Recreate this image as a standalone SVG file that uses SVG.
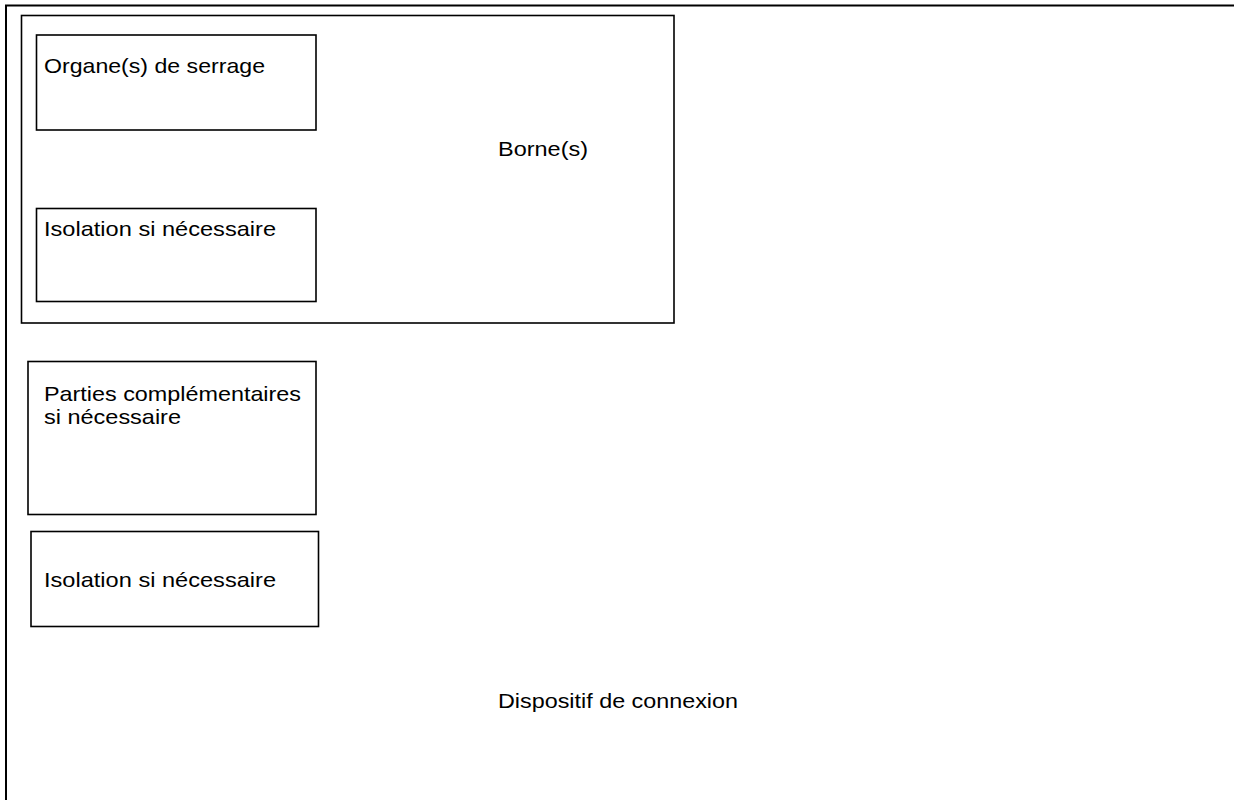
<svg xmlns="http://www.w3.org/2000/svg" width="1234" height="800" viewBox="0 0 1234 800">
<style>
.box{fill:none;stroke:#000;stroke-width:1.6}
.frame{fill:none;stroke:#000;stroke-width:2}
text{font-family:"Liberation Sans",Arial,sans-serif;font-size:21px;fill:#000}
</style>
<rect width="1234" height="800" fill="#fff"/>
<g id="dispositif">
<path class="frame" d="M6,800 V5.5 H1234"/>
<text x="498" y="708" textLength="240" lengthAdjust="spacingAndGlyphs">Dispositif de connexion</text>
</g>
<g id="bornes">
<rect class="box" x="21.5" y="15.5" width="652.5" height="307.5"/>
<text x="498" y="156" textLength="90" lengthAdjust="spacingAndGlyphs">Borne(s)</text>
</g>
<g id="organes">
<rect class="box" x="36.5" y="35" width="279.5" height="95"/>
<text x="44" y="73" textLength="221" lengthAdjust="spacingAndGlyphs">Organe(s) de serrage</text>
</g>
<g id="isolation1">
<rect class="box" x="36.5" y="208.5" width="279.5" height="93"/>
<text x="44" y="236" textLength="232" lengthAdjust="spacingAndGlyphs">Isolation si nécessaire</text>
</g>
<g id="parties">
<rect class="box" x="28" y="361.5" width="288" height="153"/>
<text x="44" y="401" textLength="257" lengthAdjust="spacingAndGlyphs">Parties complémentaires</text>
<text x="44" y="424" textLength="137" lengthAdjust="spacingAndGlyphs">si nécessaire</text>
</g>
<g id="isolation2">
<rect class="box" x="31" y="531.5" width="287.5" height="95"/>
<text x="44" y="587" textLength="232" lengthAdjust="spacingAndGlyphs">Isolation si nécessaire</text>
</g>
<g id="connectors"/>
</svg>
